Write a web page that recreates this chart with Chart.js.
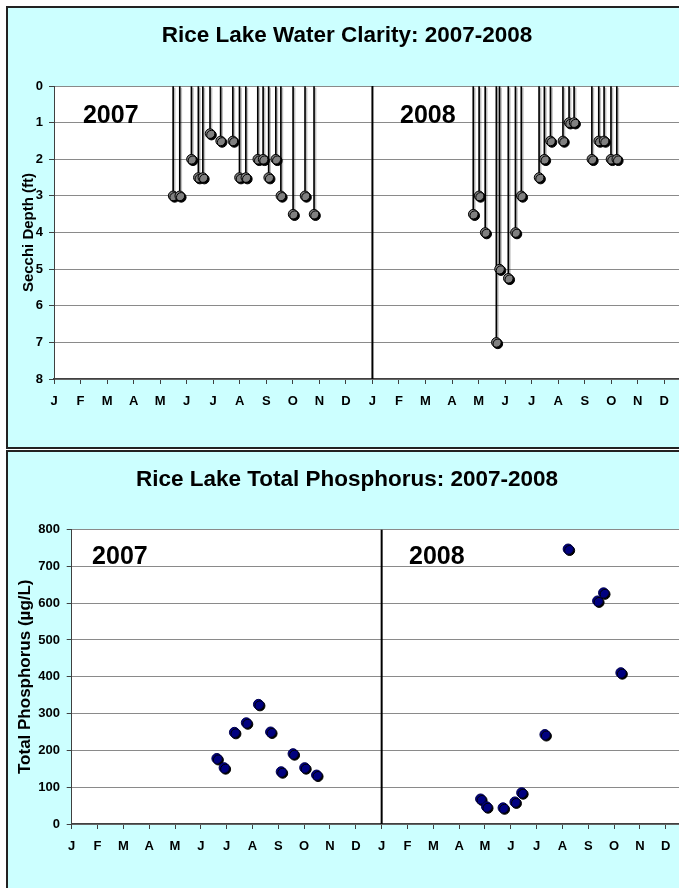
<!DOCTYPE html>
<html>
<head>
<meta charset="utf-8">
<script src="https://cdn.jsdelivr.net/npm/chart.js@4"></script>
<style>
  html, body { margin: 0; padding: 0; background: #fff; overflow: hidden; }
  body { width: 679px; height: 888px; position: relative; }
  .box { position: absolute; left: 6px; width: 720px; background: #ccffff; border: 2px solid #222; box-sizing: border-box; }
  #box1 { top: 6px; height: 443px; }
  #box2 { top: 450px; height: 450px; }
  canvas { position: absolute; left: 0; }
  #clarity { top: 0; }
  #phos { top: 451px; }
</style>
</head>
<body>
<div class="box" id="box1"></div>
<div class="box" id="box2"></div>
<canvas id="clarity" width="694" height="449"></canvas>
<canvas id="phos" width="694" height="437"></canvas>
<script>
// month letters, one tick per month start, Jan 2007 = 0
var monthLabels = ['J','F','M','A','M','J','J','A','S','O','N','D',
                   'J','F','M','A','M','J','J','A','S','O','N','D'];
var yearBreak = 12;

// Secchi depth readings (months since Jan 1 2007, feet)
var secchiDate = [4.49, 4.74, 5.18, 5.44, 5.61, 5.88, 6.28, 6.74, 6.99, 7.23, 7.68, 7.88, 8.09, 8.36, 8.55, 9.01, 9.46, 9.80,
                  15.80, 16.02, 16.25, 16.67, 16.79, 17.12, 17.39, 17.61, 18.28, 18.48, 18.71, 19.18, 19.41, 19.60, 20.27, 20.53, 20.73, 20.99, 21.21];
var secchiDepth = [3, 3, 2, 2.5, 2.5, 1.3, 1.5, 1.5, 2.5, 2.5, 2, 2, 2.5, 2, 3, 3.5, 3, 3.5,
                   3.5, 3, 4, 7, 5, 5.25, 4, 3, 2.5, 2, 1.5, 1.5, 1, 1, 2, 1.5, 1.5, 2, 2];
var depthTicks = [0, 1, 2, 3, 4, 5, 6, 7, 8];

// total phosphorus samples (months since Jan 1 2007, ug/L)
var tpDate = [5.62, 5.90, 6.30, 6.76, 7.23, 7.70, 8.11, 8.57, 9.02, 9.48,
              15.83, 16.06, 16.70, 17.16, 17.42, 18.32, 19.22, 20.36, 20.59, 21.26];
var tpValue = [178, 153, 249, 275, 325, 250, 142, 191, 153, 133,
               68, 47, 44, 60, 85, 243, 747, 606, 628, 411];
var tpTicks = [0, 100, 200, 300, 400, 500, 600, 700, 800];

Chart.defaults.font.family = '"Liberation Sans", Arial, sans-serif';
Chart.defaults.font.weight = 'bold';
Chart.defaults.color = '#000';

function pts(xs, ys) {
    return xs.map(function(x, i){ return {x: x, y: ys[i]}; });
}

var plotBg = {
    id: 'plotBg',
    beforeDraw: function(chart) {
        var a = chart.chartArea, ctx = chart.ctx;
        ctx.save();
        ctx.fillStyle = '#fff';
        ctx.fillRect(a.left, a.top, a.right - a.left, a.bottom - a.top);
        ctx.restore();
    }
};

var shadow = {
    id: 'shadow',
    beforeDatasetDraw: function(chart, args) {
        var ds = chart.data.datasets[args.index];
        if (!ds.shadowColor) return;
        var ctx = chart.ctx;
        ctx.save();
        ctx.shadowColor = ds.shadowColor;
        ctx.shadowOffsetX = 1.5;
        ctx.shadowOffsetY = 1.5;
        ctx.shadowBlur = 0;
    },
    afterDatasetDraw: function(chart, args) {
        if (chart.data.datasets[args.index].shadowColor) chart.ctx.restore();
    }
};

var yearLabels = {
    id: 'yearLabels',
    afterDatasetsDraw: function(chart, args, opts) {
        var ctx = chart.ctx, sx = chart.scales.x, sy = chart.scales.y;
        ctx.save();
        ctx.font = 'bold 25px "Liberation Sans", Arial, sans-serif';
        ctx.fillStyle = '#000';
        ctx.textAlign = 'left';
        ctx.textBaseline = 'alphabetic';
        opts.items.forEach(function(it){
            ctx.fillText(it.text, sx.getPixelForValue(it.x), sy.getPixelForValue(it.y));
        });
        ctx.restore();
    }
};

function monthAxis(max, height, pad) {
    return {
        type: 'linear',
        min: 0,
        max: max,
        offset: false,
        afterBuildTicks: function(s){ s.ticks = monthLabels.map(function(_, i){ return {value: i}; }); },
        afterFit: function(s){ s.height = height; },
        ticks: {
            autoSkip: false, maxRotation: 0, padding: pad,
            font: {size: 13, weight: 'bold'},
            callback: function(v){ return monthLabels[v]; }
        },
        grid: {offset: false, drawOnChartArea: false, tickLength: 5, tickColor: '#404040'},
        border: {color: '#404040', width: 1.5}
    };
}

function valueAxis(ticks, reverse, width, pad, title, titleSize, titlePad) {
    return {
        type: 'linear',
        min: ticks[0],
        max: ticks[ticks.length - 1],
        reverse: reverse,
        afterBuildTicks: function(s){ s.ticks = ticks.map(function(v){ return {value: v}; }); },
        afterFit: function(s){ s.width = width; },
        ticks: {padding: pad, font: {size: 13, weight: 'bold'}},
        grid: {color: '#8a8a8a', tickLength: 5, tickColor: '#404040'},
        border: {color: '#404040', width: 1},
        title: {display: true, text: title, padding: {top: titlePad, bottom: 0},
                font: {size: titleSize, weight: 'bold'}}
    };
}

new Chart(document.getElementById('clarity'), {
    type: 'scatter',
    plugins: [plotBg, shadow, yearLabels],
    data: {
        datasets: [{
            type: 'scatter',
            data: pts(secchiDate, secchiDepth),
            pointRadius: 4.8,
            pointBackgroundColor: '#808080',
            pointBorderColor: '#000',
            pointBorderWidth: 1,
            shadowColor: '#000',
            order: 0
        }, {
            type: 'bar',
            data: pts(secchiDate, secchiDepth),
            backgroundColor: '#000',
            barThickness: 1,
            shadowColor: 'rgba(0,0,0,0.25)',
            order: 1
        }, {
            type: 'line',
            data: [{x: yearBreak, y: depthTicks[0]}, {x: yearBreak, y: depthTicks[depthTicks.length - 1]}],
            borderColor: '#000',
            borderWidth: 2,
            pointRadius: 0,
            order: 2
        }]
    },
    options: {
        responsive: false,
        animation: false,
        layout: {padding: 0},
        scales: {
            x: monthAxis(23.9, 70, 10),
            y: valueAxis(depthTicks, true, 54, 6, 'Secchi Depth (ft)', 15, 20)
        },
        plugins: {
            legend: {display: false},
            tooltip: {enabled: false},
            title: {
                display: true,
                text: 'Rice Lake Water Clarity: 2007-2008',
                font: {size: 22.5, weight: 'bold'},
                padding: {top: 22.5, bottom: 36.5}
            },
            yearLabels: {items: [{text: '2007', x: 1.09, y: 1.02}, {text: '2008', x: 13.04, y: 1.02}]}
        }
    }
});

new Chart(document.getElementById('phos'), {
    type: 'scatter',
    plugins: [plotBg, shadow, yearLabels],
    data: {
        datasets: [{
            type: 'scatter',
            data: pts(tpDate, tpValue),
            pointRadius: 5,
            pointBackgroundColor: '#000080',
            pointBorderColor: '#000050',
            pointBorderWidth: 1,
            shadowColor: '#000',
            order: 0
        }, {
            type: 'line',
            data: [{x: yearBreak, y: tpTicks[0]}, {x: yearBreak, y: tpTicks[tpTicks.length - 1]}],
            borderColor: '#000',
            borderWidth: 2,
            pointRadius: 0,
            order: 2
        }]
    },
    options: {
        responsive: false,
        animation: false,
        layout: {padding: 0},
        scales: {
            x: monthAxis(23.86, 64, 9.9),
            y: valueAxis(tpTicks, false, 71.7, 6.7, 'Total Phosphorus (µg/L)', 17, 15.3)
        },
        plugins: {
            legend: {display: false},
            tooltip: {enabled: false},
            title: {
                display: true,
                text: 'Rice Lake Total Phosphorus: 2007-2008',
                font: {size: 22.5, weight: 'bold'},
                padding: {top: 15.5, bottom: 36}
            },
            yearLabels: {items: [{text: '2007', x: 0.79, y: 706}, {text: '2008', x: 13.06, y: 706}]}
        }
    }
});
</script>
</body>
</html>
